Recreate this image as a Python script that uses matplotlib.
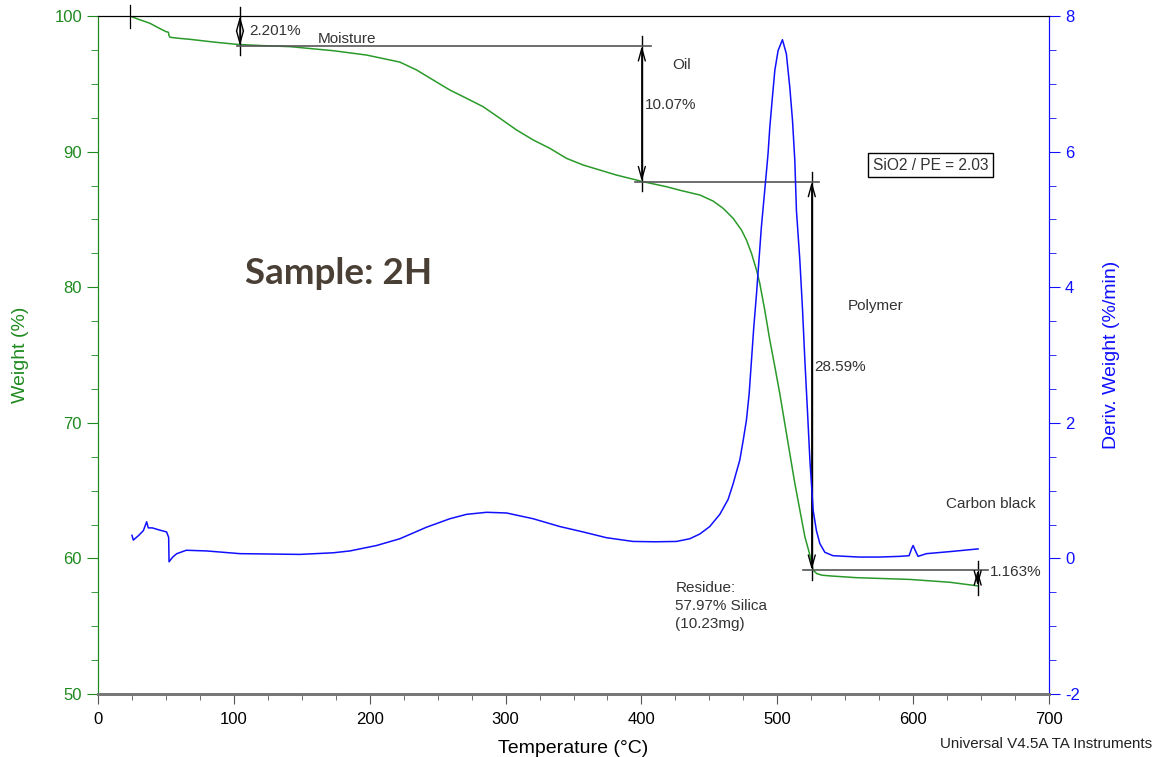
import matplotlib.pyplot as plt
import numpy as np
from matplotlib.ticker import MultipleLocator

# weight curve (temperature degC, weight %)
temp_w = [23.5, 30, 38.3, 45, 50, 51.8, 52.3, 53, 60, 67.7, 85, 102, 120, 141.3, 173.2,
          197.7, 222.2, 234.5, 246.7, 259, 271.3, 283.5, 295.8, 308, 320.3, 332.6, 344.9,
          357.1, 369.4, 381.6, 401.3, 418.5, 428.3, 443, 452.8, 460.1, 467.5, 473.6,
          477.3, 481, 484.7, 487.1, 490.8, 494.5, 498.2, 501.8, 505.5, 509.2, 512.9,
          516.6, 520.3, 524, 526.4, 529, 533, 540, 558, 597.5, 627, 647.8]
weight = [100.0, 99.75, 99.46, 99.1, 98.85, 98.8, 98.55, 98.43, 98.35, 98.28, 98.08,
          97.91, 97.82, 97.74, 97.44, 97.12, 96.6, 96.02, 95.28, 94.54, 93.93, 93.31,
          92.46, 91.6, 90.86, 90.24, 89.5, 89.01, 88.64, 88.27, 87.78, 87.41, 87.15,
          86.8, 86.35, 85.82, 85.08, 84.22, 83.48, 82.5, 81.27, 80.29, 78.3, 76.1, 74.14,
          72.18, 69.96, 67.75, 65.54, 63.57, 61.6, 60.25, 59.14, 58.88, 58.76, 58.7,
          58.58, 58.45, 58.24, 57.97]

# derivative curve (temperature degC, %/min)
temp_d = [25.0, 26.0, 30, 33.4, 35.8, 37, 40, 45, 50.5, 52, 52.3, 55, 58, 65, 80, 104.5,
          148.6, 173.2, 185.4, 205, 222.2, 241.8, 259, 271.3, 286, 300.7, 320.3, 339.9,
          357.1, 374.3, 393.9, 410, 425.8, 435.6, 443, 450.3, 457.7, 463.8, 467.5, 470,
          472.4, 474.9, 477.3, 479.3, 481, 482.7, 484.7, 488.3, 492, 493.2, 494.5, 496.4,
          498.2, 500.6, 503.8, 506.7, 509.2, 511.2, 512.9, 514.1, 516.6, 518.6, 520.3,
          522.2, 524, 526.4, 528.8, 531.3, 535, 541, 560, 575, 590, 597, 599, 600, 601.5,
          603.6, 609.8, 627, 647.8]
deriv = [0.34, 0.27, 0.34, 0.41, 0.54, 0.45, 0.45, 0.42, 0.39, 0.31, -0.05, 0.02, 0.07,
         0.12, 0.11, 0.07, 0.059, 0.083, 0.11, 0.19, 0.29, 0.46, 0.585, 0.65, 0.68, 0.67,
         0.585, 0.47, 0.39, 0.305, 0.25, 0.245, 0.25, 0.29, 0.36, 0.47, 0.65, 0.87, 1.1,
         1.28, 1.45, 1.74, 2.04, 2.43, 2.92, 3.41, 3.9, 4.89, 5.7, 5.97, 6.36, 6.8, 7.2,
         7.49, 7.65, 7.44, 6.95, 6.46, 5.87, 5.13, 4.40, 3.66, 2.92, 2.18, 1.45, 0.71,
         0.41, 0.22, 0.09, 0.04, 0.02, 0.02, 0.03, 0.04, 0.15, 0.19, 0.12, 0.03, 0.07,
         0.1, 0.14]

# step analysis: temperatures of the arrows and weight levels
step_t = [104.5, 400.3, 525.4, 647.5]
step_w = [100.0, 97.8, 87.79, 59.14, 57.98]
step_txt = ['2.201%', '10.07%', '28.59%', '1.163%']

GREEN = '#1f8a1f'
BLUE = '#1010ff'
TXT = '#333333'

plt.rcParams['font.family'] = ['Liberation Sans', 'DejaVu Sans']
plt.rcParams['axes.unicode_minus'] = False

fig = plt.figure(figsize=(11.53, 7.57), dpi=100)
ax = fig.add_axes([98 / 1153, 1 - 694 / 757, 951 / 1153, 678 / 757])
ax2 = ax.twinx()

ax.plot(temp_w, weight, color='#2a9a2a', lw=1.1)
ax2.plot(temp_d, deriv, color=BLUE, lw=1.1)

ax.set_xlim(0, 700)
ax.set_ylim(50, 100)
ax2.set_ylim(-2, 8)

ax.xaxis.set_major_locator(MultipleLocator(100))
ax.xaxis.set_minor_locator(MultipleLocator(25))
ax.yaxis.set_major_locator(MultipleLocator(10))
ax.yaxis.set_minor_locator(MultipleLocator(2.5))
ax2.yaxis.set_major_locator(MultipleLocator(2))
ax2.yaxis.set_minor_locator(MultipleLocator(0.5))

ax.tick_params(axis='x', which='major', length=7, color='#555555', labelsize=12, pad=6)
ax.tick_params(axis='x', which='minor', length=4, color='#555555')
ax.tick_params(axis='y', which='major', length=8, color=GREEN, labelcolor=GREEN, labelsize=12)
ax.tick_params(axis='y', which='minor', length=5, color=GREEN)
ax2.tick_params(axis='y', which='major', length=8, color=BLUE, labelcolor=BLUE, labelsize=12)
ax2.tick_params(axis='y', which='minor', length=5, color=BLUE)

for a in (ax, ax2):
    a.spines['left'].set_color(GREEN)
    a.spines['right'].set_color(BLUE)
    a.spines['bottom'].set_color('#777777')
    a.spines['bottom'].set_linewidth(2)
    a.spines['top'].set_color('black')
    a.spines['top'].set_linewidth(0.8)

ax.set_xlabel('Temperature (°C)', fontsize=14, labelpad=9)
ax.set_ylabel('Weight (%)', fontsize=14, color=GREEN, labelpad=18)
ax2.set_ylabel('Deriv. Weight (%/min)', fontsize=14, color=BLUE, labelpad=17)

# start marker
ax.plot([temp_w[0], temp_w[0]], [100.8, 99.1], color='black', lw=0.9, clip_on=False)

# step arrows and level lines
hl = [(102, 407), (395, 531), (519, 655)]
for i, t in enumerate(step_t):
    y0, y1 = step_w[i + 1], step_w[i]
    ax.plot([t, t], [y0 - 0.7, y1 + 0.7], color='black', lw=1, clip_on=False)
    ax.annotate('', xy=(t, y0), xytext=(t, y1),
                arrowprops=dict(arrowstyle='<->,head_length=0.9,head_width=0.25',
                                color='black', lw=1, shrinkA=0, shrinkB=0))
for i, (a, b) in enumerate(hl):
    ax.plot([a, b], [step_w[i + 1], step_w[i + 1]], color='#555555', lw=1.2)

ax.text(step_t[0] + 7, 98.9, step_txt[0], fontsize=11, color=TXT, va='center')
ax.text(162, 98.3, 'Moisture', fontsize=11, color=TXT, va='center')
ax.text(423, 96.4, 'Oil', fontsize=11, color=TXT, va='center')
ax.text(step_t[1] + 2, 93.45, step_txt[1], fontsize=11, color=TXT, va='center')
ax.text(552, 78.6, 'Polymer', fontsize=11, color=TXT, va='center')
ax.text(step_t[2] + 2, 74.1, step_txt[2], fontsize=11, color=TXT, va='center')
ax.text(624, 64.0, 'Carbon black', fontsize=11, color=TXT, va='center')
ax.text(step_t[3] + 9, 59.0, step_txt[3], fontsize=11, color=TXT, va='center')
ax.text(425, 56.5, 'Residue:\n57.97% Silica\n(10.23mg)', fontsize=11, color=TXT,
        va='center', linespacing=1.35)
ax.text(570.5, 89.0, 'SiO2 / PE = 2.03', fontsize=11.2, color=TXT, va='center',
        bbox=dict(boxstyle='square,pad=0.3', fc='white', ec='black', lw=1))
ax.text(108, 81.0, 'Sample: 2H', fontsize=26.5, fontweight='bold', color='#4a3f35',
        family=['Lato', 'DejaVu Sans'], va='center')

fig.text(0.999, 0.012, 'Universal V4.5A TA Instruments', ha='right', fontsize=10.9, color='#222222')

fig.savefig('out.png', dpi=100)
